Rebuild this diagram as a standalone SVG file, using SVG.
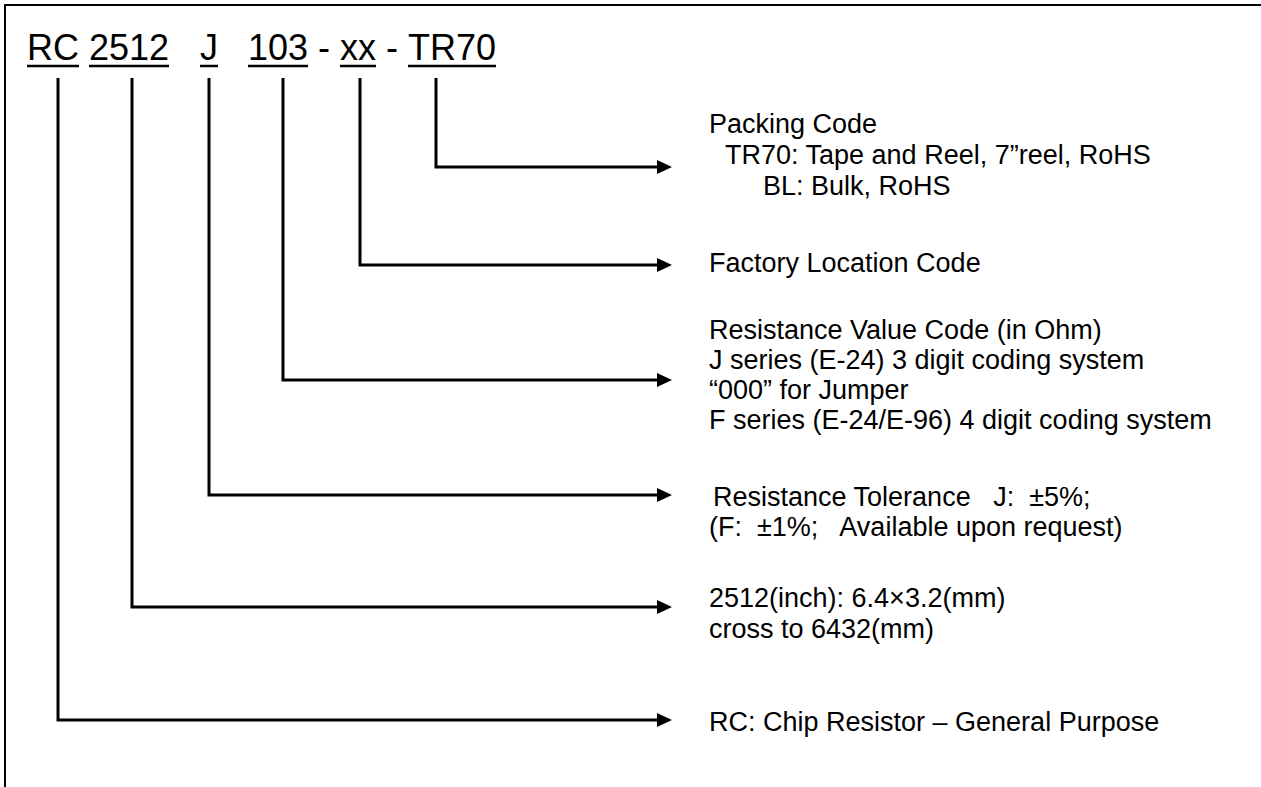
<svg xmlns="http://www.w3.org/2000/svg" width="1261" height="787" viewBox="0 0 1261 787">
<defs>
<style>
.t{font-family:"Liberation Sans",Arial,sans-serif;fill:#000;white-space:pre}
.title{font-size:36px}
.d{font-size:27px}
.ul{stroke:#000;stroke-width:2.5}
.c{fill:none;stroke:#000;stroke-width:3}
</style>
<marker id="ah" markerWidth="15" markerHeight="14" refX="1" refY="7" orient="auto" markerUnits="userSpaceOnUse">
<path d="M0,0 L15,7 L0,14 z" fill="#000"/>
</marker>
</defs>
<rect width="1261" height="787" fill="#fff"/>
<path d="M5,787 V5 H1261" fill="none" stroke="#000" stroke-width="2"/>
<g id="title">
<text class="t title" y="60"><tspan x="27">RC</tspan><tspan x="89">2512</tspan><tspan x="200">J</tspan><tspan x="248">103</tspan><tspan x="318">-</tspan><tspan x="340">xx</tspan><tspan x="386">-</tspan><tspan x="408">TR70</tspan></text>
<line class="ul" x1="27" y1="66" x2="79" y2="66"/>
<line class="ul" x1="89" y1="66" x2="169" y2="66"/>
<line class="ul" x1="200" y1="66" x2="218" y2="66"/>
<line class="ul" x1="248" y1="66" x2="308" y2="66"/>
<line class="ul" x1="340" y1="66" x2="376" y2="66"/>
<line class="ul" x1="408" y1="66" x2="496" y2="66"/>
</g>
<g id="connectors">
<path class="c" d="M436,78 V167 H658" marker-end="url(#ah)"/>
<path class="c" d="M360,78 V265 H658" marker-end="url(#ah)"/>
<path class="c" d="M283,78 V380 H658" marker-end="url(#ah)"/>
<path class="c" d="M209,78 V495 H658" marker-end="url(#ah)"/>
<path class="c" d="M132,78 V607 H658" marker-end="url(#ah)"/>
<path class="c" d="M58,78 V720 H658" marker-end="url(#ah)"/>
</g>
<g id="packing">
<text class="t d" x="709" y="133">Packing Code</text>
<text class="t d" x="725" y="164">TR70: Tape and Reel, 7”reel, RoHS</text>
<text class="t d" x="763" y="195">BL: Bulk, RoHS</text>
</g>
<g id="factory">
<text class="t d" x="709" y="272">Factory Location Code</text>
</g>
<g id="value">
<text class="t d" x="709" y="339">Resistance Value Code (in Ohm)</text>
<text class="t d" x="709" y="369">J series (E-24) 3 digit coding system</text>
<text class="t d" x="709" y="399">“000” for Jumper</text>
<text class="t d" x="709" y="429">F series (E-24/E-96) 4 digit coding system</text>
</g>
<g id="tolerance">
<text class="t d" x="713" y="506" xml:space="preserve">Resistance Tolerance   J:  ±5%;</text>
<text class="t d" x="709" y="536" xml:space="preserve">(F:  ±1%;   Available upon request)</text>
</g>
<g id="size">
<text class="t d" x="709" y="607">2512(inch): 6.4×3.2(mm)</text>
<text class="t d" x="709" y="638">cross to 6432(mm)</text>
</g>
<g id="type">
<text class="t d" x="709" y="731">RC: Chip Resistor – General Purpose</text>
</g>
</svg>
